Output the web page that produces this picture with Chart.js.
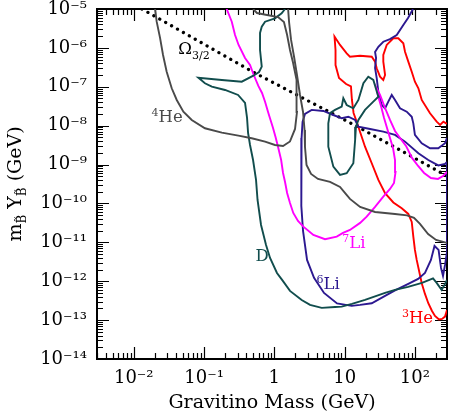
<!DOCTYPE html>
<html><head><meta charset="utf-8">
<script src="https://cdn.jsdelivr.net/npm/chart.js@4.4.0/dist/chart.umd.min.js"></script>
<style>html,body{margin:0;padding:0;background:#fff;}canvas{display:block;}</style>
</head><body>
<canvas id="c" width="449" height="418"></canvas>
<script>
// ---- axis ranges and tick labels ----
const massRange = [0.003, 286];
const yieldRange = [1e-14, 1e-5];
const xTickValues = [0.01, 0.1, 1, 10, 100];
const xTickLabels = ['10⁻²', '10⁻¹', '1', '10', '10²'];
const yTickValues = [1e-14, 1e-13, 1e-12, 1e-11, 1e-10, 1e-9, 1e-8, 1e-7, 1e-6, 1e-5];
const yTickLabels = ['10⁻¹⁴', '10⁻¹³', '10⁻¹²', '10⁻¹¹', '10⁻¹⁰', '10⁻⁹', '10⁻⁸', '10⁻⁷', '10⁻⁶', '10⁻⁵'];

// ---- curves: [gravitino mass (GeV), m_B Y_B (GeV)] ----
const omegaLine = [[0.0131,1e-5],[0.498,2.40e-7],[15.5,9.27e-9],[286,5.09e-10]];

const he4Inner = [[0.0201,1e-5],[0.0212,4.72e-6],[0.0237,1.79e-6],[0.0261,6.57e-7],[0.0294,2.44e-7],[0.0347,9.15e-8],[0.0409,4.58e-8],[0.0508,2.29e-8],[0.0668,1.40e-8],[0.103,8.57e-9],[0.179,6.61e-9],[0.308,5.53e-9],[0.477,4.74e-9],[0.738,3.88e-9],[1.02,3.19e-9],[1.33,3.01e-9],[1.67,3.93e-9],[1.97,8.22e-9],[2.10,2.25e-8],[2.10,6.15e-8],[2.04,1.50e-7],[1.85,4.09e-7],[1.67,8.83e-7],[1.52,2.15e-6],[1.37,4.63e-6],[1.13,6.22e-6],[0.787,7.01e-6],[0.567,7.89e-6],[0.498,1e-5]];

const he4Outer = [[1.57,1e-5],[1.62,4.63e-6],[1.73,1.60e-6],[1.91,5.83e-7],[2.10,2.01e-7],[2.32,6.15e-8],[2.56,2.25e-8],[2.69,7.74e-9],[2.73,2.83e-9],[2.87,9.77e-10],[3.33,5.73e-10],[4.18,4.27e-10],[6.20,3.57e-10],[8.60,2.65e-10],[10.1,1.86e-10],[11.9,1.31e-10],[16.6,8.13e-11],[27.1,6.04e-11],[52.1,5.37e-11],[77.2,4.92e-11],[97.1,4.24e-11],[118,2.97e-11],[154,1.64e-11],[200,1.15e-11],[286,9.66e-12]];

const dMain = [[1.42,1e-5],[1.27,7.75e-6],[1.02,5.77e-6],[0.738,4.72e-6],[0.662,3.51e-6],[0.626,2.42e-6],[0.626,8.83e-7],[0.662,3.29e-7],[0.606,2.40e-7],[0.503,1.93e-7],[0.344,1.35e-7],[0.179,1.50e-7],[0.083,1.71e-7],[0.103,1.23e-7],[0.129,1.01e-7],[0.199,8.28e-8],[0.305,6.15e-8],[0.383,3.84e-8],[0.409,1.58e-8],[0.423,6.49e-9],[0.451,3.19e-9],[0.498,1.31e-9],[0.549,4.02e-10],[0.577,1.23e-10],[0.647,2.80e-11],[0.762,8.57e-12],[0.869,3.97e-12],[1.09,1.63e-12],[1.29,1.08e-12],[1.67,5.64e-13],[2.45,3.30e-13],[3.22,2.46e-13],[4.72,2.06e-13],[7.30,2.18e-13],[9.09,2.22e-13],[12.7,2.61e-13],[19.5,3.30e-13],[37.6,5.00e-13],[52.1,5.97e-13],[79.8,7.13e-13],[126,9.04e-13],[181,1.18e-12],[204,9.04e-13],[240,5.97e-13],[268,8.53e-13],[286,1.08e-12]];

const dIsland = [[6.20,2.12e-8],[7.30,2.54e-8],[9.09,3.08e-8],[9.58,5.06e-8],[10.7,3.40e-8],[13.3,2.80e-8],[15.7,4.58e-8],[18.5,1.23e-7],[21.7,1.82e-7],[25.6,1.50e-7],[30.2,5.57e-8],[25.6,4.14e-8],[19.5,2.54e-8],[15.7,1.40e-8],[14.5,9.42e-9],[14.1,4.29e-9],[13.3,1.08e-9],[10.7,5.97e-10],[8.60,5.41e-10],[6.91,8.83e-10],[5.86,2.88e-9],[5.86,1.15e-8],[6.20,2.12e-8]];

const li7Curve = [[0.210,1e-5],[0.248,4.72e-6],[0.276,2.15e-6],[0.310,1.19e-6],[0.383,5.50e-7],[0.451,3.63e-7],[0.503,2.13e-7],[0.592,1.05e-7],[0.668,6.93e-8],[0.738,4.14e-8],[0.814,2.25e-8],[0.883,1.40e-8],[0.958,8.73e-9],[1.04,5.13e-9],[1.13,2.83e-9],[1.25,1.31e-9],[1.33,6.08e-10],[1.42,3.57e-10],[1.52,1.86e-10],[1.67,1.03e-10],[1.86,5.70e-11],[2.17,3.55e-11],[2.59,2.53e-11],[3.59,1.55e-11],[5.26,1.20e-11],[7.72,1.40e-11],[9.49,1.75e-11],[11.9,2.08e-11],[16.6,3.16e-11],[20.6,4.58e-11],[27.1,8.13e-11],[35.5,1.50e-10],[44.2,2.36e-10],[50.4,3.37e-10],[53.0,6.46e-10],[52.1,1.31e-9],[48.8,2.67e-9],[44.2,4.83e-9],[40.1,8.73e-9],[36.4,1.58e-8],[32.9,3.21e-8],[29.9,5.80e-8],[28.4,9.31e-8],[31.9,6.15e-8],[37.6,2.85e-8],[44.2,1.40e-8],[52.1,7.31e-9],[61.4,4.83e-9],[74.7,3.01e-9],[90.9,1.48e-9],[111,9.20e-10],[135,6.08e-10],[169,4.52e-10],[213,4.27e-10],[251,5.09e-10],[286,6.46e-10]];

const li6Upper = [[94.0,1e-5],[79.8,5.87e-6],[68.4,3.88e-6],[55.1,2.15e-6],[44.2,1.69e-6],[35.5,1.44e-6],[30.2,1.07e-6],[27.1,7.85e-7],[28.0,5.50e-7],[27.1,3.04e-7],[28.6,1.68e-7],[30.2,7.35e-8],[33.7,3.40e-8],[37.6,2.80e-8],[41.8,4.14e-8],[46.8,6.15e-8],[52.1,4.58e-8],[61.4,2.80e-8],[76.4,2.29e-8],[90.1,1.70e-8],[94.9,1.15e-8],[100,5.77e-9],[125,3.53e-9],[164,2.62e-9],[215,2.62e-9],[268,3.53e-9],[286,4.83e-9]];

const li6Main = [[286,1.17e-9],[268,1.04e-9],[215,9.48e-10],[155,1.31e-9],[112,1.95e-9],[72.3,3.88e-9],[52.1,5.77e-9],[35.5,7.01e-9],[23.0,8.22e-9],[15.7,9.42e-9],[14.1,1.40e-8],[11.3,1.70e-8],[9.09,1.55e-8],[6.91,1.88e-8],[4.98,2.39e-8],[3.40,2.54e-8],[2.73,2.00e-8],[2.52,1.24e-8],[2.44,4.83e-9],[2.40,9.20e-10],[2.44,8.63e-11],[2.56,1.96e-11],[2.92,3.53e-12],[3.67,1.22e-12],[5.09,5.00e-13],[7.80,2.69e-13],[12.6,2.32e-13],[16.6,2.46e-13],[24.3,2.72e-13],[37.6,4.19e-13],[52.1,5.80e-13],[80.5,8.53e-13],[111,1.15e-12],[139,1.63e-12],[169,3.53e-12],[190,8.07e-12],[217,6.38e-12],[235,2.20e-12],[251,1.37e-12],[268,2.62e-12],[286,5.66e-12],[286,1.17e-9]];

const he3Curve = [[286,1.11e-8],[254,1.27e-8],[228,1.04e-8],[204,1.27e-8],[164,2.08e-8],[125,4.58e-8],[112,9.15e-8],[100,1.35e-7],[90.1,2.44e-7],[80.5,4.42e-7],[72.3,7.98e-7],[68.4,1.31e-6],[58.0,1.77e-6],[49.3,1.77e-6],[39.7,1.19e-6],[35.5,6.57e-7],[35.5,4.42e-7],[37.6,2.01e-7],[35.5,1.50e-7],[31.9,1.82e-7],[28.6,2.99e-7],[27.1,4.42e-7],[24.3,5.94e-7],[16.6,6.30e-7],[11.9,5.94e-7],[10.7,7.26e-7],[8.60,1.19e-6],[7.18,1.96e-6],[7.42,8.83e-7],[7.42,3.63e-7],[8.32,1.68e-7],[10.5,1.18e-7],[12.3,1.02e-7],[12.7,4.58e-8],[13.4,2.12e-8],[14.9,1.24e-8],[16.6,6.89e-9],[19.5,2.88e-9],[24.3,1.08e-9],[30.2,4.02e-10],[37.6,1.83e-10],[49.3,1.06e-10],[64.9,7.53e-11],[80.5,5.37e-11],[90.1,3.34e-11],[94.9,1.40e-11],[100,6.38e-12],[106,3.53e-12],[118,1.45e-12],[125,8.89e-13],[139,4.72e-13],[155,2.72e-13],[175,1.72e-13],[193,1.28e-13],[220,1.04e-13],[243,1.07e-13],[268,1.23e-13],[286,1.83e-13]];

// ---- curve labels (anchor in data units) ----
const labelMain = ['He', 'D', 'Li', 'Li', 'He', 'Ω'];
const labelSup  = ['4', '', '6', '7', '3', ''];
const labelSub  = ['', '', '', '', '', '3/2'];
const labelMass = [0.0298, 0.668, 5.81, 13.5, 109, 0.0721];
const labelYield = [1.77e-8, 4.74e-12, 9.04e-13, 1.04e-11, 1.23e-13, 1.02e-6];

// ---- styling ----
const FONT = '"DejaVu Serif", serif';
const C = {he4:'#4a4a4a', d:'#114d4d', li7:'#ff00ff', li6:'#2c1890', he3:'#ff0000', omega:'#000000'};
const labelColors = [C.he4, C.d, C.li6, C.li7, C.he3, C.omega];

function pts(arr){ return arr.map(p => ({x:p[0], y:p[1]})); }
function ds(label, arr, color, extra){
  return Object.assign({label, data:pts(arr), borderColor:color, backgroundColor:color,
    borderWidth:1.9, pointRadius:0, pointHoverRadius:0, showLine:true, fill:false, tension:0}, extra||{});
}

const datasets = [
  ds('⁴He', he4Inner, C.he4),
  ds('⁴He outer', he4Outer, C.he4),
  ds('D', dMain, C.d),
  ds('D island', dIsland, C.d),
  ds('⁷Li', li7Curve, C.li7),
  ds('⁶Li', li6Main, C.li6),
  ds('⁶Li upper', li6Upper, C.li6),
  ds('³He', he3Curve, C.he3),
  ds('Ω3/2', omegaLine, C.omega, {borderWidth:3.3, borderDash:[0.001, 6.8], borderCapStyle:'round'})
];

// frame + inward ticks on all four sides
const framePlugin = {
  id:'frame',
  beforeDatasetsDraw(chart){
    const {ctx, chartArea:a, scales:{x, y}} = chart;
    ctx.save();
    ctx.strokeStyle = '#000';
    ctx.lineWidth = 1.2;
    ctx.beginPath();
    for (let e = -3; e <= 2; e++) for (let k = 1; k <= 9; k++) {
      const v = k * Math.pow(10, e);
      if (v < x.min * 0.999 || v > x.max * 1.001) continue;
      const px = Math.round(x.getPixelForValue(v)) + 0.5;
      const len = k === 1 ? 12 : 6;
      ctx.moveTo(px, a.bottom); ctx.lineTo(px, a.bottom - len);
      ctx.moveTo(px, a.top); ctx.lineTo(px, a.top + len);
    }
    for (let e = -14; e <= -5; e++) for (let k = 1; k <= 9; k++) {
      const v = k * Math.pow(10, e);
      if (v < y.min * 0.999 || v > y.max * 1.001) continue;
      const py = Math.round(y.getPixelForValue(v)) + 0.5;
      const len = k === 1 ? 12 : 6;
      ctx.moveTo(a.left, py); ctx.lineTo(a.left + len, py);
      ctx.moveTo(a.right, py); ctx.lineTo(a.right - len, py);
    }
    ctx.stroke();
    ctx.lineWidth = 2;
    ctx.strokeRect(a.left, a.top, a.right - a.left, a.bottom - a.top);
    ctx.restore();
  }
};

function drawRich(ctx, segs, x0, base, color){
  ctx.fillStyle = color; ctx.textAlign = 'left'; ctx.textBaseline = 'alphabetic';
  let x = x0;
  segs.forEach(s => { ctx.font = s.size + 'px ' + FONT; ctx.fillText(s.t, x, base + s.dy); x += ctx.measureText(s.t).width; });
}
function richWidth(ctx, segs){
  let w = 0; segs.forEach(s => { ctx.font = s.size + 'px ' + FONT; w += ctx.measureText(s.t).width; }); return w;
}

const textPlugin = {
  id:'texts',
  afterDraw(chart){
    const {ctx, scales:{x, y}, chartArea:a} = chart;
    ctx.save();
    labelMain.forEach((m, i) => {
      const segs = [];
      if (labelSup[i]) segs.push({t:labelSup[i], size:11, dy:-6});
      segs.push({t:m, size:16.5, dy:0});
      if (labelSub[i]) segs.push({t:labelSub[i], size:11, dy:5});
      const cx = x.getPixelForValue(labelMass[i]);
      const cy = y.getPixelForValue(labelYield[i]);
      const w = richWidth(ctx, segs);
      drawRich(ctx, segs, cx - w / 2, cy + 6, labelColors[i]);
    });
    // y-axis title with subscripts
    const segs = [
      {t:'m', size:19, dy:0}, {t:'B̃', size:12, dy:5},
      {t:' Y', size:19, dy:0}, {t:'B̃', size:12, dy:5},
      {t:' (GeV)', size:19, dy:0}
    ];
    const w = richWidth(ctx, segs);
    ctx.translate(21, (a.top + a.bottom) / 2);
    ctx.rotate(-Math.PI / 2);
    drawRich(ctx, segs, -w / 2, 0, '#000');
    ctx.restore();
  }
};

function labelFor(values, labels, v){
  for (let i = 0; i < values.length; i++) if (Math.abs(Math.log10(values[i]) - Math.log10(v)) < 1e-6) return labels[i];
  return '';
}

new Chart(document.getElementById('c'), {
  type:'scatter',
  data:{datasets},
  options:{
    responsive:false,
    animation:false,
    devicePixelRatio:1,
    layout:{padding:{top:9, right:2, left:0, bottom:0}},
    plugins:{legend:{display:false}, tooltip:{enabled:false}},
    events:[],
    scales:{
      x:{
        type:'logarithmic', position:'bottom', min:massRange[0], max:massRange[1],
        grid:{display:false, drawTicks:false}, border:{display:false},
        afterBuildTicks(s){ s.ticks = xTickValues.map(v => ({value:v, major:true})); },
        afterFit(s){ s.height = 59; s.paddingLeft = 0; s.paddingRight = 0; },
        ticks:{autoSkip:false, maxRotation:0, minRotation:0, padding:9, color:'#000',
          font:{family:FONT, size:18},
          callback:(v) => labelFor(xTickValues, xTickLabels, v)},
        title:{display:true, text:'Gravitino Mass (GeV)', color:'#000',
          font:{family:FONT, size:19}, padding:{top:0, bottom:4}}
      },
      y:{
        type:'logarithmic', position:'left', min:yieldRange[0], max:yieldRange[1],
        grid:{display:false, drawTicks:false}, border:{display:false},
        afterBuildTicks(s){ s.ticks = yTickValues.map(v => ({value:v, major:true})); },
        afterFit(s){ s.width = 97; s.paddingTop = 0; s.paddingBottom = 0; },
        ticks:{autoSkip:false, padding:10, color:'#000',
          font:{family:FONT, size:18},
          callback:(v) => labelFor(yTickValues, yTickLabels, v)}
      }
    }
  },
  plugins:[framePlugin, textPlugin]
});
</script>
</body></html>
